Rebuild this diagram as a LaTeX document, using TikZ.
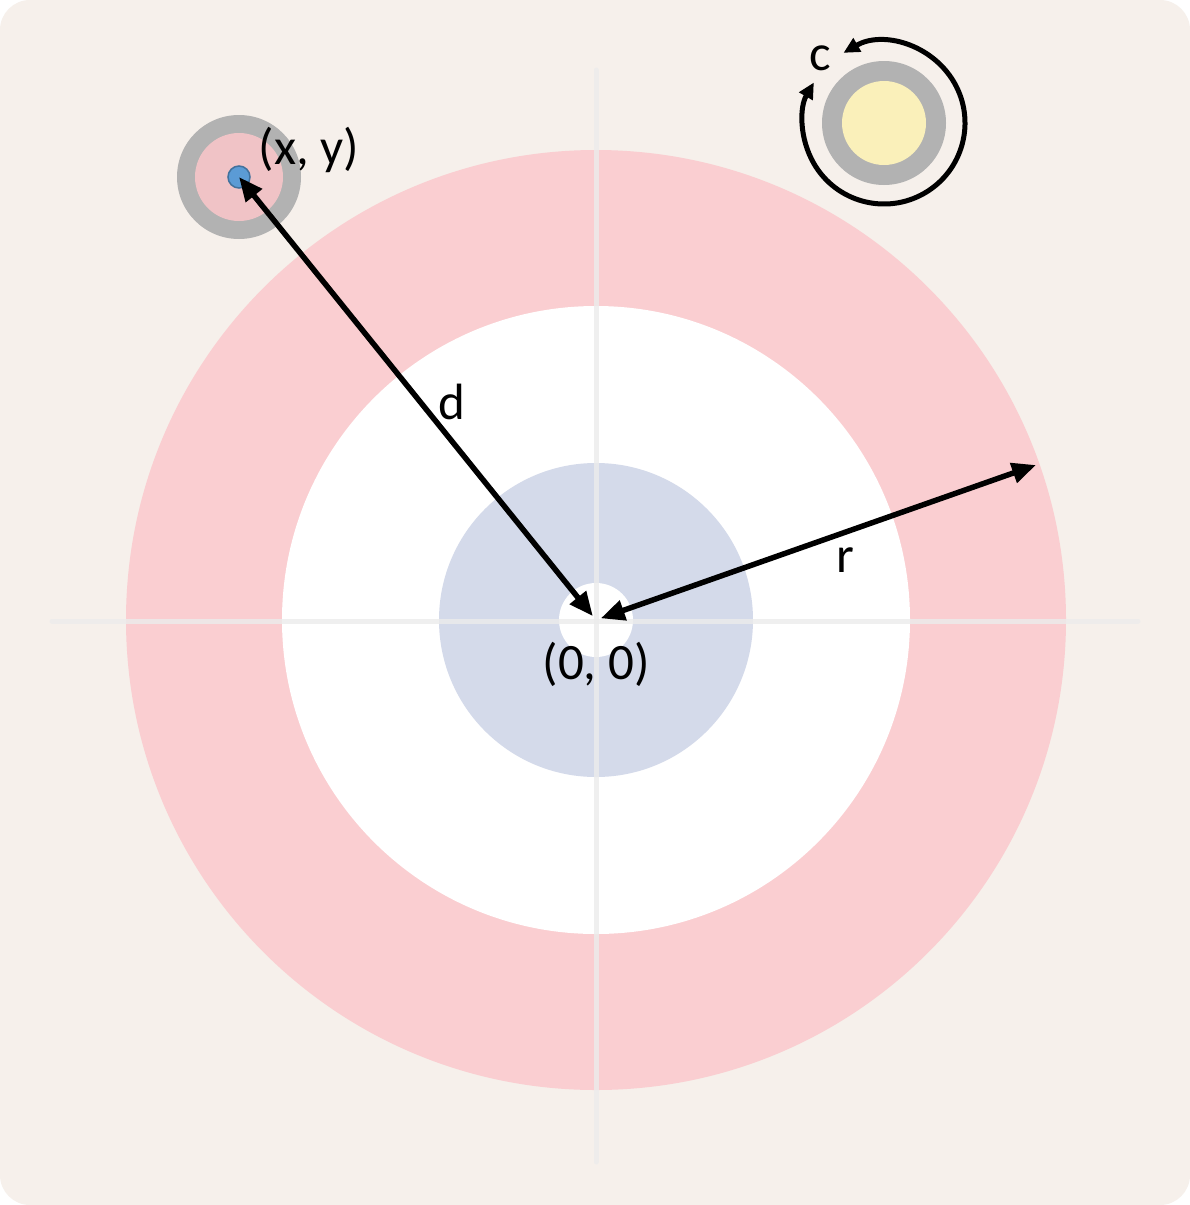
\documentclass[tikz,border=0pt]{standalone}
\usepackage{fontspec}
\setmainfont{Carlito}
\usetikzlibrary{arrows.meta}
\definecolor{sheet}{RGB}{246,240,235}
\definecolor{ringred}{RGB}{250,206,209}
\definecolor{ringblue}{RGB}{212,218,234}
\definecolor{stonegray}{RGB}{178,178,178}
\definecolor{stonepink}{RGB}{240,195,198}
\definecolor{stoneyellow}{RGB}{250,240,186}
\definecolor{dotblue}{RGB}{91,155,213}
\definecolor{dotedge}{RGB}{65,113,156}
\definecolor{crossline}{RGB}{236,236,236}

\begin{document}
\begin{tikzpicture}[x=1pt,y=-1pt,>={Triangle[length=24pt,width=20pt]},
  arrow line/.style={line width=5.5pt},
  spin line/.style={line width=5pt,>={Triangle[length=16pt,width=15pt]}},
  cross/.style={line width=5pt,line cap=round,color=crossline,opacity=0.8},
  tag/.style={font=\fontsize{51}{60}\selectfont,inner sep=0pt}]

  \useasboundingbox (0,0) rectangle (1190,1205);
  \fill[white] (0,0) rectangle (1190,1205);
  \fill[sheet,rounded corners=30pt] (0,0) rectangle (1190,1205);

  % house
  \coordinate (O) at (596,620);
  \fill[ringred] (O) circle[radius=470];
  \fill[white] (O) circle[radius=314];
  \fill[ringblue] (O) circle[radius=157];
  \fill[white] (O) circle[radius=37];
  \draw[cross] (52,621) -- (1138,621);
  \draw[cross] (596,70) -- (596,1162);

  % stone at (x, y)
  \coordinate (S) at (239,177);
  \fill[stonegray] (S) circle[radius=62];
  \fill[stonepink] (S) circle[radius=44];
  \draw[dotedge,line width=1.5pt,fill=dotblue] (S) circle[radius=11];

  % spinning stone
  \coordinate (T) at (884,123);
  \fill[stonegray] (T) circle[radius=62];
  \fill[stoneyellow] (T) circle[radius=42];
  \draw[spin line,<->] (T) ++(240:81) arc[start angle=240,end angle=570,radius=81];

  \coordinate (rim) at (1036,465);
  \draw[arrow line,<->,shorten >=5pt] (S) -- (O);
  \draw[arrow line,<->,shorten <=5pt] (O) -- (rim);

  \node[tag] (xy) at (309,150) {(x, y)};
  \node[tag] (d) at (452,402) {d};
  \node[tag] (r) at (845,560) {r};
  \node[tag] (origin) at (596,664) {(0, 0)};
  \node[tag] (c) at (820,58) {c};
\end{tikzpicture}
\end{document}
